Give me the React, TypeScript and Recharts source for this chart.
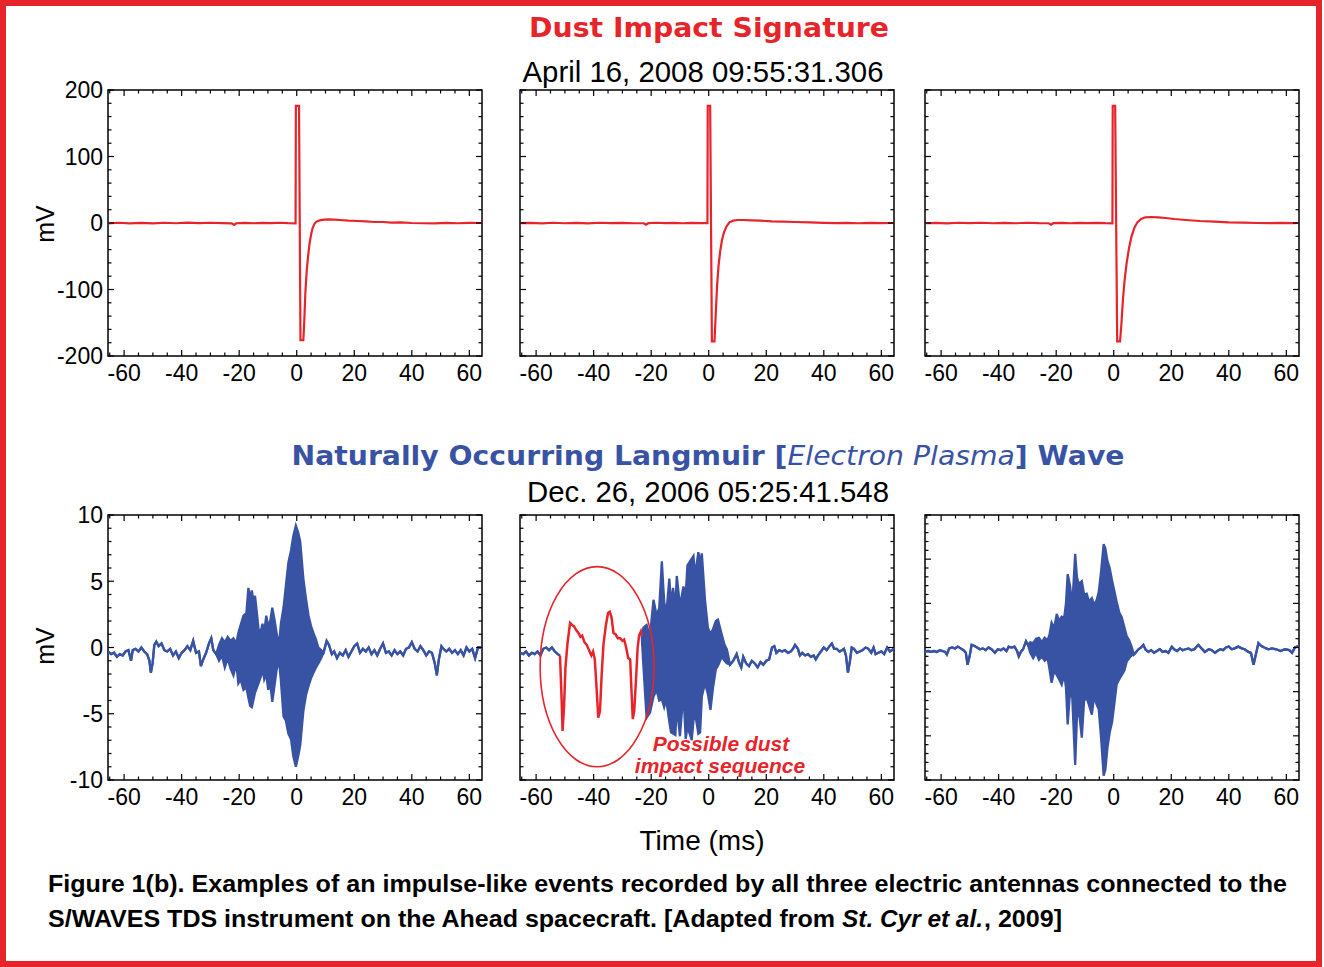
import React from 'react';
import { ComposedChart, Line, Area, XAxis, YAxis, ReferenceArea } from 'recharts';

const RED = '#e8242b';
const BLUE = '#3953a4';
const FONT = '"Liberation Sans", Arial, Helvetica, sans-serif';

// ---------- axes / ticks ----------
const X_DOMAIN: [number, number] = [-65.6, 64.4];
const xMajorTicks = [-60, -40, -20, 0, 20, 40, 60];
const xMinorTicks = [-65, -55, -50, -45, -35, -30, -25, -15, -10, -5, 5, 10, 15, 25, 30, 35, 45, 50, 55];
const dustDomain: [number, number] = [-200, 200];
const dustMajorTicks = [-200, -100, 0, 100, 200];
const dustMinorTicks = [-180, -160, -140, -120, -80, -60, -40, -20, 20, 40, 60, 80, 120, 140, 160, 180];
const waveDomain: [number, number] = [-10, 10];
const waveMajorTicks = [-10, -5, 0, 5, 10];
const waveMinorTicks = [-9, -8, -7, -6, -4, -3, -2, -1, 1, 2, 3, 4, 6, 7, 8, 9];
const wave3Domain: [number, number] = [-15, 15];
const wave3MajorTicks = [-15, -10, -5, 0, 5, 10, 15];
const wave3MinorTicks = [-14, -13, -12, -11, -9, -8, -7, -6, -4, -3, -2, -1, 1, 2, 3, 4, 6, 7, 8, 9, 11, 12, 13, 14];

// ---------- text ----------
const titleTop = 'Dust Impact Signature';
const dateTop = 'April 16, 2008 09:55:31.306';
const titleBottomA = 'Naturally Occurring Langmuir [';
const titleBottomB = 'Electron Plasma';
const titleBottomC = '] Wave';
const dateBottom = 'Dec. 26, 2006 05:25:41.548';
const yLabel = 'mV';
const xLabel = 'Time (ms)';
const captionLine1 = 'Figure 1(b).  Examples of an impulse-like events recorded by all three electric antennas connected to the';
const captionLine2a = 'S/WAVES TDS instrument on the Ahead spacecraft.  [Adapted from';
const captionLine2b = 'St. Cyr et al.';
const captionLine2c = ', 2009]';
const annot1 = 'Possible dust';
const annot2 = 'impact sequence';

// annotation ellipse bounds (data units, middle bottom panel)
const ellipseT: [number, number] = [-58.6, -19.0];
const ellipseV: [number, number] = [-9.0, 6.1];

// ---------- dust impact data: [time ms, mV] ----------
const dust1: [number, number][] = [
  [-65.6, -0.5], [-62, 0.4], [-58, -0.6], [-54, 0.3], [-50, -0.5], [-46, 0.4], [-42, -0.4], [-38, 0.5],
  [-34, -0.3], [-30, 0.4], [-26, -0.2], [-22.6, -0.5], [-21.8, -3], [-21, -0.4], [-18, 0.3], [-15, -0.4],
  [-12, 0.3], [-9, -0.3], [-6, 0.4], [-3, -0.3], [-0.4, -0.5], [-0.3, 176], [0.8, 176], [1.3, -176],
  [2.3, -176], [2.6, -150], [3.0, -105], [3.5, -70], [4.0, -48], [4.5, -30], [5.0, -17], [5.5, -8],
  [6.2, -1], [7, 2.5], [8, 4], [9.5, 5], [11, 5.5], [13, 5], [15, 4.5], [18, 3.5], [21, 3], [24, 2.5],
  [27, 1.5], [30, 1.5], [33, 0.5], [36, 0.8], [40, 0], [44, -0.4], [48, -0.6], [52, 0.2], [56, -0.4],
  [60, 0.2], [64.4, 0],
];
const dust2: [number, number][] = [
  [-65.6, -0.3], [-62, 0.3], [-58, -0.5], [-54, 0.4], [-50, -0.4], [-46, 0.3], [-42, -0.5], [-38, 0.4],
  [-34, -0.2], [-30, 0.3], [-26, -0.4], [-22.6, -0.4], [-21.8, -2.5], [-21, -0.3], [-18, 0.4], [-15, -0.3],
  [-12, 0.2], [-9, -0.4], [-6, 0.3], [-3, -0.2], [-0.45, -0.3], [-0.35, 176], [0.5, 176], [1.1, -178],
  [2.0, -178], [2.4, -140], [2.9, -95], [3.4, -65], [4.0, -42], [4.6, -26], [5.3, -14], [6.2, -5],
  [7.2, 1], [8.5, 3.5], [10, 4.5], [12, 4.5], [15, 4], [18, 3.5], [22, 2.5], [26, 2], [30, 1.5],
  [35, 1], [40, 0.3], [44, -0.3], [48, 0.2], [52, -0.4], [56, 0.3], [60, -0.3], [64.4, 0],
];
const dust3: [number, number][] = [
  [-65.6, -0.4], [-62, 0.3], [-58, -0.5], [-54, 0.4], [-50, -0.3], [-46, 0.4], [-42, -0.4], [-38, 0.3],
  [-34, -0.4], [-30, 0.4], [-26, -0.3], [-22.6, -0.4], [-21.8, -2.5], [-21, -0.3], [-18, 0.3], [-15, -0.4],
  [-12, 0.3], [-9, -0.3], [-6, 0.3], [-3, -0.3], [-0.45, -0.4], [-0.35, 176], [0.5, 176], [1.2, -178],
  [2.2, -178], [2.7, -150], [3.2, -115], [3.8, -85], [4.5, -60], [5.3, -38], [6.2, -20], [7.2, -7],
  [8.2, 1], [9.5, 6], [11, 8.5], [13, 9], [15.5, 8.5], [18, 7.5], [21, 6], [25, 4.5], [30, 3],
  [35, 2], [40, 1], [45, 0.5], [50, 0], [54, -0.3], [58, 0.3], [62, -0.2], [64.4, 0],
];

// ---------- Langmuir wave data: [time ms, upper mV, lower mV (omitted = same)] ----------
type W = [number, number, number?];
const wave1: W[] = [
  [-65.6, -0.3], [-64.5, -0.5], [-63.5, -0.4], [-62.5, -0.7], [-61.5, -0.5], [-60.5, -0.6], [-59.5, -0.3],
  [-58.5, -0.2], [-57.6, -1.0], [-57, -0.2], [-56, -0.1], [-55, -0.3], [-54, 0], [-53, -0.3], [-52, -0.5],
  [-51.2, -1.0], [-50.7, -1.9], [-50.1, -1.2], [-49.5, 0.2], [-48.8, 0.45], [-48, 0.1], [-47, 0.3],
  [-46, -0.2], [-45, -0.3], [-44, -0.1], [-43, -0.6], [-42, -0.3], [-41, -0.8], [-40, -0.4], [-39, -0.2],
  [-38, 0.1], [-37, -0.2], [-36, 0.5], [-35, -0.4], [-34, -0.3], [-33.3, -1.4], [-32.5, -0.9],
  [-31.5, -0.4], [-30.5, 0.3], [-29.7, 0.7], [-29, -0.2], [-28, -0.5],
  [-27, 0.2, -1.0], [-26, 0.7, -0.6], [-25, 0.4, -1.5], [-24, 0.8, -0.8], [-23, 0.5, -1.6], [-22, 0.7, -2.1],
  [-21, 0.3, -1.2], [-20.3, 1.1, -2.7], [-19.5, 1.7, -2.4], [-18.5, 2.4, -3.2], [-17.5, 2.6, -3.0],
  [-16.8, 4.5, -3.8], [-16.2, 3.7, -4.4], [-15.6, 4.3, -4.5], [-15, 3.4, -3.9], [-14.5, 3.9, -3.4],
  [-13.8, 2.5, -3.0], [-13.3, 1.4, -2.7], [-12.5, 1.2, -2.2], [-11.9, 1.8, -1.6], [-11.3, 1.1, -2.4],
  [-10.6, 2.4, -2.0], [-9.9, 1.6, -3.2], [-9.2, 2.0, -2.6], [-8.5, 3.0, -4.1], [-7.8, 2.2, -3.0],
  [-7, 1.1, -1.7], [-6.2, 0.1, -0.9], [-5.5, 1.8, -2.5], [-4.6, 3.0, -5.2], [-3.8, 4.6, -5.5],
  [-2.9, 6.4, -6.5], [-2, 7.3, -6.9], [-1.2, 8.4, -8.2], [-0.3, 9.2, -9.0], [0.5, 8.7, -8.2],
  [1.2, 8.0, -7.4], [2.3, 5.2, -4.8], [3.2, 3.7, -3.6], [4.1, 2.4, -2.9], [5, 1.6, -2.3], [5.8, 1.1, -1.9],
  [6.7, 0.6, -1.5], [7.5, 0.0, -1.2], [8.5, -0.2, -0.8],
  [9.3, -0.4], [10.4, 0.5], [11.2, 0.2], [12.2, -0.5], [13, -0.3], [14, -0.8], [15, -0.4], [16, -0.6],
  [17, -0.2], [18, -0.7], [19, -0.3], [20, 0.1], [21, 0.3], [22, -0.4], [23, -0.1], [24, -0.3], [25, 0.0],
  [26, -0.5], [27, -0.2], [28, -0.6], [29, -0.1], [30, 0.3], [31, -0.4], [32, -0.3], [33, -0.6], [34, -0.2],
  [35, -0.5], [36, -0.3], [37, -0.6], [38, -0.1], [39, 0.0], [40, 0.4], [41, -0.1], [42, -0.3], [43, 0.1],
  [44, -0.2], [45, -0.6], [46, -0.3], [47, -0.4], [48, -1.2], [48.7, -2.1], [49.4, -0.9], [50.3, 0.1],
  [51, -0.1], [52, -0.3], [53, -0.1], [54, -0.4], [55, -0.2], [56, -0.5], [57, -0.2], [58, -0.6], [59, 0.0],
  [60, -0.3], [61, -0.1], [62, -0.8], [63, 0.0], [64.4, 0.0],
];

const wave2Before: W[] = [
  [-65.6, -0.4], [-64.5, -0.5], [-63.5, -0.3], [-62.5, -0.6], [-61.5, -0.4], [-60.5, -0.5], [-59.5, -0.3],
  [-58.5, -0.6], [-57.5, -0.1], [-56.5, 0.0], [-55.5, -0.2], [-54.5, 0.0], [-53.5, -0.3], [-52.5, -0.5],
  [-51.7, -0.6],
];
const wave2Dust: [number, number][] = [
  [-51.7, -0.6], [-51.2, -3.5], [-50.8, -6.3], [-50.3, -4.5], [-49.8, -1.5], [-49.1, 0.3], [-48.2, 1.85],
  [-47.5, 1.7], [-46.8, 1.6], [-46, 1.3], [-45.3, 1.1], [-44.6, 0.8], [-44, 0.9], [-43.2, 0.4], [-42.4, 0.2],
  [-41.6, -0.2], [-40.8, -0.6], [-40.2, -0.3], [-39.6, -0.9], [-39, -3.0], [-38.4, -5.3], [-37.8, -4.8],
  [-37.2, -2.0], [-36.6, 0.2], [-35.8, 1.6], [-35, 2.6], [-34.4, 2.7], [-33.8, 2.3], [-33.1, 1.1],
  [-32.4, 1.0], [-31.6, 0.7], [-30.8, 0.7], [-30, 0.5], [-29.4, 0.6], [-28.7, 0.0], [-28, -0.8],
  [-27.3, -0.9], [-26.9, -3.0], [-26.4, -5.4], [-25.9, -4.8], [-25.3, -2.5], [-24.7, 0.0], [-24.2, 0.9],
  [-23.6, 1.2], [-23.3, 0.9],
];
const wave2After: W[] = [
  [-23.3, 0.9], [-22.7, 1.5, -1.4], [-21.6, 1.7, -5.3], [-20.4, 0.9, -4.9], [-19.2, 3.6, -3.7],
  [-18.1, 2.4, -3.2], [-17.2, 3.0, -4.0], [-16.3, 6.5, -3.9], [-15.5, 3.5, -4.5], [-14.8, 2.4, -3.9],
  [-13.7, 5.2, -5.6], [-13.1, 3.2, -6.4], [-12.4, 4.5, -6.5], [-11.6, 3.0, -6.6], [-11.1, 5.4, -4.4],
  [-10, 3.1, -6.7], [-8.8, 4.6, -3.4], [-8, 4.0, -6.9], [-7.4, 6.2, -6.0], [-5.9, 6.7, -7.0],
  [-5.3, 6.9, -5.5], [-4.8, 5.4, -4.9], [-3.6, 7.2, -6.5], [-3, 6.4, -6.4], [-2.4, 7.1, -3.7],
  [-1.3, 3.6, -2.7], [-0.3, 1.5, -3.5], [0.6, 1.0, -4.7], [1.5, 1.4, -3.0], [2.5, 2.0, -1.6],
  [3.2, 2.1, -1.4], [4.5, 1.0, -0.7], [5.5, 0.2, -1.0], [6.3, -0.15, -1.2],
  [7.4, -1.3], [8.5, -1.0], [9.7, -0.5], [10.5, -1.1], [11.3, -1.5], [12, -0.7], [13, -1.2], [14, -1.4],
  [15, -1.0], [16, -1.2], [17, -1.5], [18, -1.1], [19, -1.3], [20, -1.0], [21, -0.9], [22, 0.0], [22.8, 0.1],
  [23.5, -0.4], [24.5, -0.2], [25.5, -0.3], [26.5, -0.2], [27.5, -0.4], [28.5, -0.3], [29.3, -0.1],
  [30, 0.2], [31, -0.1], [31.7, -0.6], [32.5, -0.4], [33.5, -0.6], [34.5, -0.5], [35.5, -0.7], [36.5, -0.6],
  [37.2, -0.9], [38, -0.6], [39, -0.3], [40, 0.0], [41, -0.2], [42, 0.1], [42.8, 0.3], [43.6, -0.1],
  [44.5, -0.1], [45.5, -0.3], [46.3, -0.2], [47, -0.1], [47.7, -0.6], [48.4, -1.9], [49.1, -1.0],
  [49.7, 0.0], [50.5, -0.1], [51.5, -0.4], [52.5, -0.3], [53.5, -0.2], [54.5, 0.0], [55.5, -0.1],
  [56.5, -0.4], [57.3, 0.0], [58, -0.5], [59, -0.4], [60, -0.3], [61, -0.5], [62, 0.0], [63, -0.3], [64.4, -0.1],
];

const wave3: W[] = [
  [-65.6, -0.45], [-64.5, -0.4], [-63.5, -0.5], [-62.5, -0.4], [-61.5, -0.5], [-60.5, -0.3], [-59.5, -0.4],
  [-58.6, -0.5], [-58, -0.8], [-57.2, -0.1], [-56.2, 0.0], [-55.2, -0.1], [-54.2, 0.1], [-53.2, -0.1],
  [-52.2, -0.3], [-51.4, -0.6], [-50.8, -1.95], [-50.1, -1.0], [-49.4, 0.3], [-48.5, 0.2], [-47.5, 0.0],
  [-46.5, -0.2], [-45.5, -0.1], [-44.5, -0.3], [-43.5, 0.0], [-42.5, -0.2], [-41.3, -0.6], [-40.3, -0.2],
  [-39.3, -0.3], [-38.3, -0.1], [-37.3, -0.4], [-36.5, 0.1], [-35.5, 0.0], [-34.5, 0.1], [-33.6, -0.4],
  [-33, -1.0], [-32.3, -0.5], [-31.5, -0.2], [-30.5, 0.7], [-29.8, 0.3],
  [-29, 0.6, -0.6], [-28, 0.5, -1.2], [-27, 1.0, -0.6], [-26, 1.1, -1.4], [-25, 0.6, -1.0], [-24, 1.1, -1.5],
  [-23, 0.8, -1.2], [-22.3, 1.5, -2.5], [-21.6, 2.8, -4.0], [-20.7, 2.2, -2.7], [-19.8, 3.8, -3.1],
  [-19, 3.0, -3.6], [-18.1, 3.5, -4.2], [-17.2, 3.4, -3.0], [-16.6, 5.0, -4.5], [-16, 8.3, -8.7],
  [-15.2, 7.0, -5.0], [-14.4, 4.8, -5.7], [-13.4, 10.6, -13.3], [-12.8, 8.0, -8.0], [-12.2, 7.2, -6.8],
  [-11.1, 7.5, -10.2], [-10.3, 6.0, -6.0], [-9.4, 6.1, -5.7], [-8.6, 5.2, -6.5], [-7.6, 5.6, -7.6],
  [-6.8, 4.8, -5.5], [-5.9, 5.4, -6.5], [-5.2, 6.3, -7.0], [-4.4, 8.6, -10.2], [-3.5, 11.7, -14.5],
  [-2.9, 11.2, -13.8], [-2.2, 9.8, -11.4], [-1.4, 9.0, -9.6], [-0.6, 7.6, -8.5], [0.2, 6.4, -6.4],
  [1, 5.2, -4.2], [1.9, 4.0, -3.6], [2.8, 3.4, -3.1], [3.7, 2.3, -2.6], [4.5, 1.3, -1.6], [5.4, 0.8, -1.2],
  [6.2, 0.1, -0.9],
  [7, -0.8], [7.8, -0.5], [8.6, -0.2], [9.5, 0.0], [10.3, 0.3], [11, -0.2], [12, -0.5], [13, -0.3],
  [14, -0.6], [15, -0.4], [16, -0.2], [17, -0.5], [18, -0.4], [19, -0.6], [20.2, 0.1], [21, -0.2],
  [22, -0.4], [23, -0.1], [24, -0.3], [25, -0.2], [26, -0.1], [27, -0.3], [28, -0.2], [29.4, 0.3],
  [30.5, -0.1], [31.7, -0.5], [33, -0.2], [34, -0.3], [35.2, -0.6], [36, -0.4], [37, -0.2], [38, -0.3],
  [39, 0.0], [40, 0.1], [41, -0.2], [42, -0.1], [43.3, 0.1], [44.5, -0.1], [45.5, -0.2], [46.8, -0.5],
  [47.7, -0.6], [48.6, -1.95], [49.4, -0.8], [50.3, 0.5], [51.2, 0.2], [52.3, 0.0], [53.8, -0.2],
  [55, -0.1], [56.5, -0.2], [58, -0.4], [59.5, -0.2], [61, -0.3], [62, -0.6], [63, 0.0], [64.4, 0.2],
];

// ---------- table builders ----------
const lineRows = (a: [number, number][]) => a.map(([t, v]) => ({ t, v }));
const bandRows = (a: W[]) => a.map(([t, hi, lo]) => ({ t, band: [lo ?? hi, hi] }));

// ---------- layout ----------
const ML = 70, MT = 20, MR = 20, MB = 45;
const colLeft = [108, 520, 925];
const plotW = 374;
const rowTop = [90, 515];
const rowH = [266, 265];

type PanelProps = {
  left: number; top: number; width: number; height: number;
  yDomain: [number, number]; yMajor: number[]; yMinor: number[];
  showYLabels: boolean; children?: React.ReactNode;
};

function Panel({ left, top, width, height, yDomain, yMajor, yMinor, showYLabels, children }: PanelProps) {
  const W = width + ML + MR;
  const H = height + MT + MB;
  const xTicks = [...xMajorTicks, ...xMinorTicks].sort((a, b) => a - b);
  const yTicks = [...yMajor, ...yMinor].sort((a, b) => a - b);
  const xTick = (p: any) => {
    const v = p.payload.value;
    const major = xMajorTicks.includes(v);
    const len = major ? 6 : 3.5;
    return (
      <g>
        <line x1={p.x} x2={p.x} y1={p.y} y2={p.y - len} stroke="#000" strokeWidth={1.2} />
        <line x1={p.x} x2={p.x} y1={MT} y2={MT + len} stroke="#000" strokeWidth={1.2} />
        {major && (
          <text x={p.x} y={p.y + 25} textAnchor="middle" fontSize={23} fontFamily={FONT} fill="#000">{v}</text>
        )}
      </g>
    );
  };
  const yTick = (p: any) => {
    const v = p.payload.value;
    const major = yMajor.includes(v);
    const len = major ? 6 : 3.5;
    return (
      <g>
        <line x1={p.x} x2={p.x + len} y1={p.y} y2={p.y} stroke="#000" strokeWidth={1.2} />
        <line x1={ML + width} x2={ML + width - len} y1={p.y} y2={p.y} stroke="#000" strokeWidth={1.2} />
        {major && showYLabels && (
          <text x={p.x - 5} y={p.y} dy="0.36em" textAnchor="end" fontSize={23} fontFamily={FONT} fill="#000">{v}</text>
        )}
      </g>
    );
  };
  return (
    <div style={{ position: 'absolute', left: left - ML, top: top - MT, width: W, height: H }}>
      <ComposedChart width={W} height={H} margin={{ top: MT, right: MR, bottom: 0, left: 0 }}>
        <XAxis type="number" dataKey="t" domain={X_DOMAIN} allowDataOverflow ticks={xTicks} interval={0}
          tickSize={0} tickMargin={0} tickLine={false} axisLine={false} tick={xTick} height={MB} />
        <YAxis type="number" domain={yDomain} allowDataOverflow ticks={yTicks} interval={0}
          tickSize={0} tickMargin={0} tickLine={false} axisLine={false} tick={yTick} width={ML} />
        <ReferenceArea x1={X_DOMAIN[0]} x2={X_DOMAIN[1]} y1={yDomain[0]} y2={yDomain[1]}
          fill="none" fillOpacity={0} stroke="#000" strokeWidth={1.5} ifOverflow="visible" />
        {children}
      </ComposedChart>
    </div>
  );
}

const ellipseShape = (p: any) => (
  <ellipse cx={p.x + p.width / 2} cy={p.y + p.height / 2} rx={Math.abs(p.width) / 2} ry={Math.abs(p.height) / 2}
    fill="none" stroke={RED} strokeWidth={1.6} />
);

export default function App() {
  const dusts = [dust1, dust2, dust3];
  return (
    <div style={{ position: 'absolute', left: 0, top: 0, width: 1324, height: 967, background: '#fff', overflow: 'hidden' }}>
      {dusts.map((d, i) => (
        <Panel key={'d' + i} left={colLeft[i]} top={rowTop[0]} width={plotW} height={rowH[0]}
          yDomain={dustDomain} yMajor={dustMajorTicks} yMinor={dustMinorTicks} showYLabels={i === 0}>
          <Line data={lineRows(d)} dataKey="v" type="linear" stroke={RED} strokeWidth={2.2} dot={false}
            isAnimationActive={false} />
        </Panel>
      ))}

      <Panel left={colLeft[0]} top={rowTop[1]} width={plotW} height={rowH[1]}
        yDomain={waveDomain} yMajor={waveMajorTicks} yMinor={waveMinorTicks} showYLabels={true}>
        <Area data={bandRows(wave1)} dataKey="band" type="linear" stroke={BLUE} strokeWidth={2.3} fill={BLUE}
          fillOpacity={1} dot={false} activeDot={false} isAnimationActive={false} />
      </Panel>

      <Panel left={colLeft[1]} top={rowTop[1]} width={plotW} height={rowH[1]}
        yDomain={waveDomain} yMajor={waveMajorTicks} yMinor={waveMinorTicks} showYLabels={false}>
        <Area data={bandRows(wave2Before)} dataKey="band" type="linear" stroke={BLUE} strokeWidth={2.3} fill={BLUE}
          fillOpacity={1} dot={false} activeDot={false} isAnimationActive={false} />
        <Area data={bandRows(wave2After)} dataKey="band" type="linear" stroke={BLUE} strokeWidth={2.3} fill={BLUE}
          fillOpacity={1} dot={false} activeDot={false} isAnimationActive={false} />
        <Line data={lineRows(wave2Dust)} dataKey="v" type="linear" stroke={RED} strokeWidth={2.5} dot={false}
          isAnimationActive={false} />
        <ReferenceArea x1={ellipseT[0]} x2={ellipseT[1]} y1={ellipseV[0]} y2={ellipseV[1]}
          shape={ellipseShape} ifOverflow="visible" />
      </Panel>

      <Panel left={colLeft[2]} top={rowTop[1]} width={plotW} height={rowH[1]}
        yDomain={wave3Domain} yMajor={wave3MajorTicks} yMinor={wave3MinorTicks} showYLabels={false}>
        <Area data={bandRows(wave3)} dataKey="band" type="linear" stroke={BLUE} strokeWidth={2.3} fill={BLUE}
          fillOpacity={1} dot={false} activeDot={false} isAnimationActive={false} />
      </Panel>

      <svg width={1324} height={967} style={{ position: 'absolute', left: 0, top: 0, pointerEvents: 'none' }}>
        <rect x={3} y={3} width={1316} height={961} fill="none" stroke={RED} strokeWidth={6} />
        <text x={709} y={37} textAnchor="middle" fontFamily='"DejaVu Sans", sans-serif' fontWeight="bold"
          fontSize={27} fill={RED} textLength={360} lengthAdjust="spacingAndGlyphs">{titleTop}</text>
        <text x={703} y={82} textAnchor="middle" fontFamily={FONT} fontSize={29} fill="#000"
          textLength={361} lengthAdjust="spacingAndGlyphs">{dateTop}</text>
        <text x={708} y={465} textAnchor="middle" fontFamily='"DejaVu Sans", sans-serif' fontWeight="bold"
          fontSize={27} fill={BLUE} textLength={833} lengthAdjust="spacingAndGlyphs">
          {titleBottomA}<tspan fontStyle="italic" fontWeight="normal">{titleBottomB}</tspan>{titleBottomC}
        </text>
        <text x={708} y={502} textAnchor="middle" fontFamily={FONT} fontSize={29} fill="#000"
          textLength={362} lengthAdjust="spacingAndGlyphs">{dateBottom}</text>
        <text transform="translate(45,224) rotate(-90)" textAnchor="middle" dy="0.36em" fontFamily={FONT}
          fontSize={25} fill="#000">{yLabel}</text>
        <text transform="translate(45,646) rotate(-90)" textAnchor="middle" dy="0.36em" fontFamily={FONT}
          fontSize={25} fill="#000">{yLabel}</text>
        <text x={702} y={850} textAnchor="middle" fontFamily={FONT} fontSize={28} fill="#000">{xLabel}</text>
        <text x={721} y={751} textAnchor="middle" fontFamily={FONT} fontSize={21} fontWeight="bold"
          fontStyle="italic" fill={RED}>{annot1}</text>
        <text x={720} y={773} textAnchor="middle" fontFamily={FONT} fontSize={21} fontWeight="bold"
          fontStyle="italic" fill={RED}>{annot2}</text>
        <text x={48} y={892} fontFamily={FONT} fontSize={24} fontWeight="bold" fill="#000"
          textLength={1239} lengthAdjust="spacingAndGlyphs">{captionLine1}</text>
        <text x={48} y={927} fontFamily={FONT} fontSize={24} fontWeight="bold" fill="#000"
          textLength={787} lengthAdjust="spacingAndGlyphs">{captionLine2a}</text>
        <text x={842} y={927} fontFamily={FONT} fontSize={24} fontWeight="bold" fontStyle="italic" fill="#000"
          textLength={141} lengthAdjust="spacingAndGlyphs">{captionLine2b}</text>
        <text x={984} y={927} fontFamily={FONT} fontSize={24} fontWeight="bold" fill="#000"
          textLength={78} lengthAdjust="spacingAndGlyphs">{captionLine2c}</text>
      </svg>
    </div>
  );
}
